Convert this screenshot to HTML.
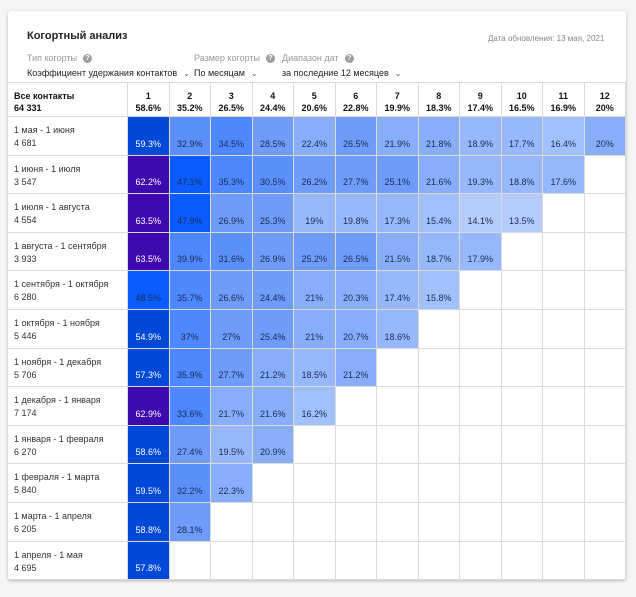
<!DOCTYPE html>
<html><head><meta charset="utf-8">
<style>
body{margin:0;width:636px;height:597px;background:#f5f5f5;font-family:"Liberation Sans","Noto Sans CJK SC",sans-serif;position:relative;overflow:hidden}
#card{position:absolute;left:8px;top:11px;width:618px;height:569px;background:#fff;box-shadow:0 1px 3px rgba(0,0,0,.25);border-radius:3px}
.t{position:absolute;white-space:nowrap}
.c{position:absolute;box-sizing:border-box;border-right:1px solid #dadada;border-bottom:1px solid #dadada;font-size:9px;text-align:center}
.q{display:inline-block;width:9px;height:9px;border-radius:50%;background:#9e9e9e;color:#fff;font-size:7px;line-height:9px;text-align:center;font-weight:bold;vertical-align:middle;margin-left:6px}
.ch{font-size:8px;color:#555;margin-left:6px}
</style></head><body>
<div id="card"></div>
<div class="t" style="left:27px;top:30px;font-size:11px;font-weight:bold;color:#222">Когортный анализ</div>
<div class="t" style="left:488px;top:34px;font-size:8px;color:#888">Дата обновления: 13 мая, 2021</div>
<div class="t" style="left:27px;top:53px;font-size:9px;color:#999">Тип когорты<span class="q">?</span></div>
<div class="t" style="left:194px;top:53px;font-size:9px;color:#999">Размер когорты<span class="q">?</span></div>
<div class="t" style="left:282px;top:53px;font-size:9px;color:#999">Диапазон дат<span class="q">?</span></div>
<div class="t" style="left:27px;top:68px;font-size:9px;color:#222">Коэффициент удержания контактов<span class="ch">⌄</span></div>
<div class="t" style="left:194px;top:68px;font-size:9px;color:#222">По месяцам<span class="ch">⌄</span></div>
<div class="t" style="left:282px;top:68px;font-size:9px;color:#222">за последние 12 месяцев<span class="ch">⌄</span></div>
<div id="tbl"></div>
<script>
const colHeaders=["1","2","3","4","5","6","7","8","9","10","11","12"];
const colTotals=["58.6%","35.2%","26.5%","24.4%","20.6%","22.8%","19.9%","18.3%","17.4%","16.5%","16.9%","20%"];
const rowLabels=["1 мая - 1 июня","1 июня - 1 июля","1 июля - 1 августа","1 августа - 1 сентября","1 сентября - 1 октября","1 октября - 1 ноября","1 ноября - 1 декабря","1 декабря - 1 января","1 января - 1 февраля","1 февраля - 1 марта","1 марта - 1 апреля","1 апреля - 1 мая"];
const rowSizes=["4 681","3 547","4 554","3 933","6 280","5 446","5 706","7 174","6 270","5 840","6 205","4 695"];
const values=[
[59.3,32.9,34.5,28.5,22.4,26.5,21.9,21.8,18.9,17.7,16.4,20],
[62.2,47.1,35.3,30.5,26.2,27.7,25.1,21.6,19.3,18.8,17.6],
[63.5,47.9,26.9,25.3,19,19.8,17.3,15.4,14.1,13.5],
[63.5,39.9,31.6,26.9,25.2,26.5,21.5,18.7,17.9],
[48.5,35.7,26.6,24.4,21,20.3,17.4,15.8],
[54.9,37,27,25.4,21,20.7,18.6],
[57.3,35.9,27.7,21.2,18.5,21.2],
[62.9,33.6,21.7,21.6,16.2],
[58.6,27.4,19.5,20.9],
[59.5,32.2,22.3],
[58.8,28.1],
[57.8]];
const T=document.getElementById('tbl');
const X0=8,Y0=82,FW=120,CW=41.5,HH=35,RH=38.6;
function colX(i){return X0+FW+i*CW}
function rowY(r){return Y0+HH+r*RH}
function color(v){
 if(v>=60)return['#4009b0','#fff'];
 if(v>=50)return['#0048d8','#fff'];
 if(v>=45)return['#0a5cff','#1a2a55'];
 if(v>=33)return['#4d88ff','#1a2a55'];
 if(v>=29)return['#5b90f8','#1a2a55'];
 if(v>=24)return['#6e9cf8','#1a2a55'];
 if(v>=20)return['#88aefb','#1a2a55'];
 if(v>=17)return['#97b8fc','#1a2a55'];
 if(v>=15)return['#a2c0fc','#1a2a55'];
 return['#b4cdfd','#1a2a55'];
}
function fmt(v){return v+'%'}
function mk(x,y,w,h,html,style){const d=document.createElement('div');d.className='c';d.style.cssText=`left:${x}px;top:${y}px;width:${w}px;height:${h}px;`+(style||'');d.innerHTML=html;T.appendChild(d);return d;}
let d=mk(X0,Y0,FW,HH,'<div style="position:absolute;left:6px;top:7px;text-align:left;font-weight:bold;line-height:12px;color:#111">Все контакты<br>64 331</div>','border-top:1px solid #dadada');


colHeaders.forEach((h,i)=>{
 const e=mk(colX(i),Y0,CW,HH,`<div style="padding-top:7px;font-weight:bold;line-height:12px;color:#111">${h}<br>${colTotals[i]}</div>`,'border-top:1px solid #dadada');
 
 
});
rowLabels.forEach((l,r)=>{
 const e=mk(X0,rowY(r),FW,RH,`<div style="position:absolute;left:6px;top:7px;text-align:left;line-height:13px;color:#333">${l}<br>${rowSizes[r]}</div>`);
 
 
 for(let i=0;i<12;i++){
  const v=values[r][i];
  let e2;
  if(v===undefined){e2=mk(colX(i),rowY(r),CW,RH,'');}
  else{const [bg,fg]=color(v);e2=mk(colX(i),rowY(r),CW,RH,`<div style="position:absolute;bottom:6px;width:100%;color:${fg}">${fmt(v)}</div>`,`background:${bg};`);}
  
  
 }
});
</script>
</body></html>
